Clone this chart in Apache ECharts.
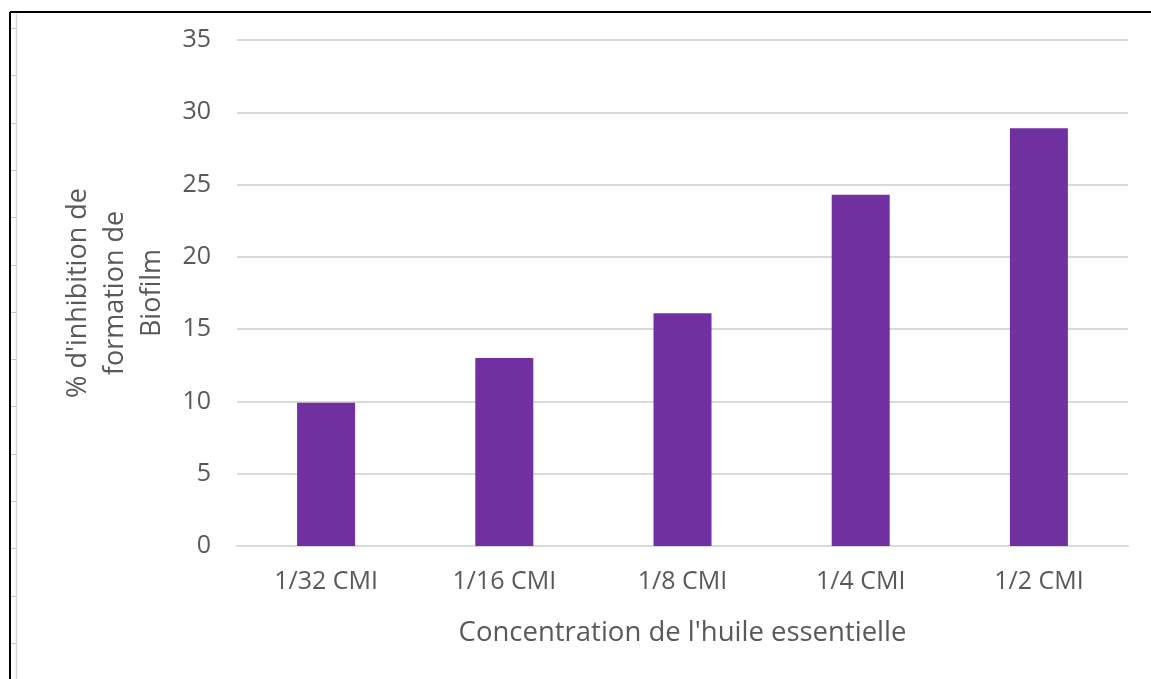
<!DOCTYPE html>
<html>
<head>
<meta charset="utf-8">
<title>Inhibition de formation de biofilm</title>
<script src="https://cdn.jsdelivr.net/npm/echarts@6/dist/echarts.min.js"></script>
<style>
  html, body { margin: 0; padding: 0; background: #ffffff; }
  #chart { width: 1151px; height: 679px; }
</style>
</head>
<body>
<div id="chart"></div>
<script>
// Concentrations tested (fractions of the MIC)
const categories = ['1/32 CMI', '1/16 CMI', '1/8 CMI', '1/4 CMI', '1/2 CMI'];
// % inhibition of biofilm formation at each concentration
const inhibition = [9.9, 13.0, 16.1, 24.3, 28.9];
// Value axis range
const yMin = 0;
const yMax = 35;
const yStep = 5;

const xTitle = "Concentration de l'huile essentielle";
const yTitle = "% d'inhibition de\nformation de\nBiofilm";

const textColor = '#595959';
const gridColor = '#d9d9d9';
const barColor = '#7030A0';
const fontFamily = '"Open Sans", "Noto Sans", sans-serif';

// Sheet frame: black border top/left, grey ruler strip with small ticks
const frame = [
  { type: 'line', shape: { x1: 10, y1: 12, x2: 1151, y2: 12 }, style: { stroke: '#000', lineWidth: 2 } },
  { type: 'line', shape: { x1: 10, y1: 12, x2: 10, y2: 679 }, style: { stroke: '#000', lineWidth: 2 } },
  { type: 'line', shape: { x1: 16.5, y1: 13, x2: 16.5, y2: 679 }, style: { stroke: '#d8d8d8', lineWidth: 1.5 } }
];
for (let y = 28; y < 679; y += 47.3) {
  frame.push({ type: 'line', shape: { x1: 11, y1: Math.round(y) + 0.5, x2: 16, y2: Math.round(y) + 0.5 }, style: { stroke: '#c8c8c8', lineWidth: 1 } });
}

const chart = echarts.init(document.getElementById('chart'), null, { renderer: 'canvas' });
chart.setOption({
  backgroundColor: '#ffffff',
  animation: false,
  textStyle: { fontFamily: fontFamily },
  graphic: frame,
  grid: { left: 237, right: 23, top: 40, bottom: 133, containLabel: false },
  xAxis: {
    type: 'category',
    data: categories,
    name: xTitle,
    nameLocation: 'middle',
    nameGap: 73,
    nameTextStyle: { color: textColor, fontSize: 27.5, fontFamily: fontFamily },
    axisLine: { show: true, lineStyle: { color: gridColor, width: 2 } },
    axisTick: { show: false },
    axisLabel: { color: textColor, fontSize: 25, margin: 23, fontFamily: fontFamily }
  },
  yAxis: {
    type: 'value',
    min: yMin,
    max: yMax,
    interval: yStep,
    name: yTitle,
    nameLocation: 'middle',
    nameGap: 66,
    nameTextStyle: { color: textColor, fontSize: 27, lineHeight: 37, align: 'center', fontFamily: fontFamily },
    axisLine: { show: false },
    axisTick: { show: false },
    axisLabel: { color: textColor, fontSize: 25, margin: 26, fontFamily: fontFamily },
    splitLine: { show: true, lineStyle: { color: gridColor, width: 2 } }
  },
  series: [{
    type: 'bar',
    data: inhibition,
    barWidth: 58,
    itemStyle: { color: barColor },
    emphasis: { disabled: true }
  }]
});
</script>
</body>
</html>
